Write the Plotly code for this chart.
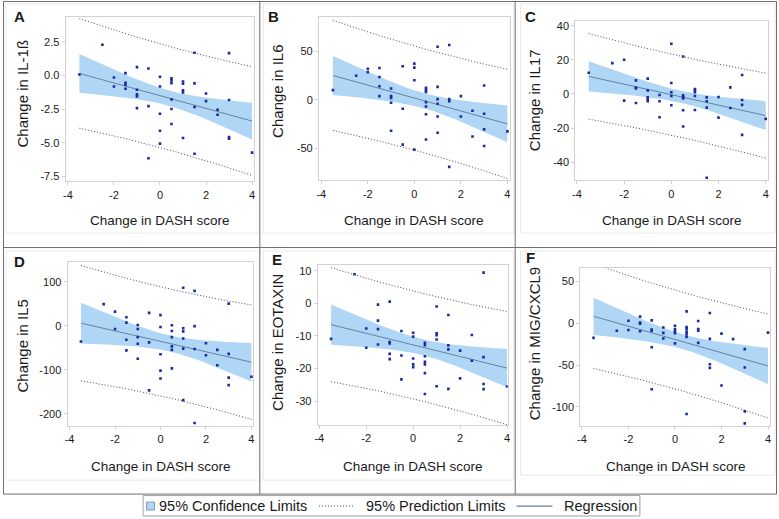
import numpy as np
import plotly.graph_objects as go

W, H = 779, 519
FONT = "Liberation Sans, Arial, sans-serif"

# ---------------- data ----------------
panel_letters = ["A", "B", "C", "D", "E", "F"]
y_titles = ["Change in IL-1ß", "Change in IL6", "Change in IL17",
            "Change in IL5", "Change in EOTAXIN", "Change in MIG/CXCL9"]
x_title = "Change in DASH score"
legend_labels = ["95% Confidence Limits", "95% Prediction Limits", "Regression"]

x_ticks = [-4, -2, 0, 2, 4]
x_ticklabels = ["-4", "-2", "0", "2", "4"]

x_A = [-3.5, -2.5, -2, -2, -1.5, -1.5, -1.5, -1.5, -1, -1, -1, -1, -1, -0.5, -0.5, -0.5,
       0, 0, 0, 0, 0, 0.5, 0.5, 0.5, 0.5, 0.5, 0.5, 1, 1, 1, 1, 1, 1.5, 1.5, 1.5, 1.5,
       2, 2, 2.5, 2.5, 3, 3, 3, 3, 4]
y_A = [0.07, 2.28, -0.15, -0.82, 0.17, -0.54, -0.69, -0.99, 0.62, -1.06, -1.41, -1.56, -2.43,
       0.52, -2.28, -6.16, -0.1, -0.82, -2.85, -4.11, -5.07, -0.22, -0.37, -0.57, -1.78, -2.5,
       -3.61, -0.45, -0.62, -1.11, -1.26, -4.65, 1.68, -0.59, -2.35, -5.82, -1.34, -1.91,
       -2.55, -2.92, 1.66, -1.83, -4.58, -4.7, -5.74]
yt_A = [2.5, 0.0, -2.5, -5.0, -7.5]
ytl_A = ["2.5", "0.0", "-2.5", "-5.0", "-7.5"]

x_B = [-3.5, -2.5, -2, -2, -1.5, -1.5, -1.5, -1.5, -1, -1, -1, -1, -1, -0.5, -0.5, -0.5,
       0, 0, 0, 0, 0.5, 0.5, 0.5, 0.5, 0.5, 0.5, 0.5, 1, 1, 1, 1, 1, 1,
       1.5, 1.5, 1.5, 1.5, 2, 2, 2.5, 2.5, 3, 3, 3, 3, 4]
y_B = [10, 25, 32, 28.5, 33, 23.7, 14, 3.8, 11.7, 3.8, 2, -3, -32, 34.7, -9.3, -46.4,
       37.5, 33.3, 20.3, -51.5, 12.4, 10.3, 8.2, -2.4, -6.9, -15, -41, 55, 13.4, 0.7, -4.1,
       -17.2, -34, 56.7, 0.7, -1.4, -69.4, 3.8, -17.2, -11.3, -38, 14.8, -14.4, -30.6, -47.8,
       -32.6]
yt_B = [50, 0, -50]
ytl_B = ["50", "0", "-50"]

x_C = [-3.5, -2.5, -2, -2, -1.5, -1.5, -1.5, -1.5, -1, -1, -1, -1, -1, -0.5, -0.5, -0.5,
       0, 0, 0, 0, 0, 0.5, 0.5, 0.5, 0.5, 0.5, 0.5, 1, 1, 1, 1, 1, 1.5, 1.5, 1.5, 1.5,
       2, 2, 2.5, 2.5, 3, 3, 3, 3, 4]
y_C = [12.5, 18.1, 20.1, -3.9, 8, 3.7, 3.3, -5.3, 9, 2.1, -2, -3.1, -4.3, -0.6, -4.3, -13.7,
       29.5, 6.4, 1, -1.2, -6.6, 22, -0.8, -2, -2.7, -9.6, -19.1, 2.9, 2, 1, -1.2, -9.4,
       -2, -4.3, -8, -49.2, -1.8, -13.9, 3.9, -8.2, 11.1, -3.5, -6.4, -24, -14.6]
yt_C = [40, 20, 0, -20, -40]
ytl_C = ["40", "20", "0", "-20", "-40"]

x_D = [-3.5, -2.5, -2, -2, -1.5, -1.5, -1.5, -1.5, -1, -1, -1, -1, -1, -0.5, -0.5, -0.5,
       0, 0, 0, 0, 0, 0.5, 0.5, 0.5, 0.5, 0.5, 0.5, 1, 1, 1, 1, 1, 1,
       1.5, 1.5, 1.5, 1.5, 2, 2, 2.5, 2.5, 3, 3, 3, 3, 4]
y_D = [-36, 49, 32, -7.5, 19, 7, -32, -56, 1.5, -7.5, -26, -41, -75, 29, -38, -147,
       24, -3, -65, -102, -120, 1, -12, -26, -47, -55, -97, 86, -6, -13, -29, -52, -169,
       79, -1, -53, -221, -40, -67, -55, -90, 50, -64, -118, -135, -116]
yt_D = [100, 0, -100, -200]
ytl_D = ["100", "0", "-100", "-200"]

x_E = [-3.5, -2.5, -2, -2, -1.5, -1.5, -1.5, -1.5, -1, -1, -1, -1, -1, -0.5, -0.5, -0.5,
       0, 0, 0, 0, 0, 0.5, 0.5, 0.5, 0.5, 0.5, 0.5, 0.5, 1, 1, 1, 1, 1,
       1.5, 1.5, 1.5, 1.5, 2, 2, 2.5, 2.5, 3, 3, 3, 3, 4]
y_E = [-10.9, 8.9, -7.7, -13.6, -0.4, -5.3, -7.9, -12.6, 0.5, -11.9, -12.3, -15.5, -17.1,
       -8.5, -16, -23.3, -9, -10.2, -16.9, -18.7, -19.6, -12.1, -12.8, -16.2, -17.9, -18.7,
       -21.4, -27.8, -1, -9.2, -9.8, -11.1, -25.4, -3.6, -12.9, -14.1, -26.2, -14.5, -23,
       -9.7, -17.6, 9.4, -16.5, -24.7, -26.3, -25.5]
yt_E = [10, 0, -10, -20, -30]
ytl_E = ["10", "0", "-10", "-20", "-30"]

x_F = [-3.5, -2.5, -2, -2, -1.5, -1.5, -1.5, -1.5, -1, -1, -1, -1, -1, -0.5, -0.5, -0.5,
       0, 0, 0, 0, 0, 0.5, 0.5, 0.5, 0.5, 0.5, 0.5, 0.5, 1, 1, 1, 1,
       1.5, 1.5, 1.5, 1.5, 2, 2, 2.5, 3, 3, 3, 3, 4]
y_F = [-17.5, -9, 3, -8, 8, 1, -0.5, -9.5, 3.5, -7.5, -9, -28.7, -79, -5, -11.5, -18.3,
       -3, -7, -9.5, -12, -24, 14.3, -4.4, -6.4, -10, -13, -16.3, -108.8, 2.8, -7, -9, -23.5,
       12.4, -18.7, -49, -53.4, -12.4, -74.5, -19, -31, -53, -105.6, -120, -11.2]
yt_F = [50, 0, -50, -100]
ytl_F = ["50", "0", "-50", "-100"]

T_CRIT = 2.016  # two-sided 95% t quantile, ~43 df

# ---------------- layout geometry (pixels) ----------------
boxes = [(63, 253, 16.5, 181), (318, 510, 16, 180), (576, 770, 20, 180),
         (65, 252, 262.3, 426.7), (316.7, 508, 265, 425.7), (581, 772.3, 268.3, 426.7)]
xranges = [[-4.1, 4.1], [-4.1, 4.1], [-4.07, 4.1], [-4.087, 4.087], [-4.07, 4.03], [-4.07, 4.1]]
yranges = [[-7.87, 4.31], [-83.3, 85.8], [-50.7, 42.9], [-228, 144], [-37.3, 11.74], [-123.2, 66]]
letter_pos = [(17, 16), (272, 16), (531, 16), (17, 262), (276, 260), (531, 257)]
ytitle_pos = [(20, 93), (276, 91), (535, 100), (20, 346), (276, 343), (535, 344)]
xtitle_pos = [(158, 220), (414, 220), (673, 220), (159, 467), (413, 467), (677, 467)]

xs = [x_A, x_B, x_C, x_D, x_E, x_F]
ys = [y_A, y_B, y_C, y_D, y_E, y_F]
yts = [yt_A, yt_B, yt_C, yt_D, yt_E, yt_F]
ytls = [ytl_A, ytl_B, ytl_C, ytl_D, ytl_E, ytl_F]

BAND = "#b0d6f6"
REG = "#6482a6"
PRED = "#4a4a4a"
DOT = "#1c2aa0"
AXC = "#d2d2d2"
TXT = "#1a1a1a"
DOTDASH = "1px,2px"


def px(xp):
    return xp / W


def py(yp):
    return 1 - yp / H


def fit(x, y):
    x = np.asarray(x, float)
    y = np.asarray(y, float)
    n = len(x)
    b1, b0 = np.polyfit(x, y, 1)
    resid = y - (b0 + b1 * x)
    s2 = np.sum(resid ** 2) / (n - 2)
    xm = x.mean()
    sxx = np.sum((x - xm) ** 2)
    g = np.linspace(x.min(), x.max(), 80)
    yh = b0 + b1 * g
    sem = np.sqrt(s2 * (1 / n + (g - xm) ** 2 / sxx))
    sep = np.sqrt(s2 * (1 + 1 / n + (g - xm) ** 2 / sxx))
    return g, yh, yh - T_CRIT * sem, yh + T_CRIT * sem, yh - T_CRIT * sep, yh + T_CRIT * sep


fig = go.Figure()
annotations = []
shapes = []

for i in range(6):
    n = "" if i == 0 else str(i + 1)
    xa, ya = "x" + n, "y" + n
    g, yh, lo, hi, plo, phi = fit(xs[i], ys[i])
    fig.add_trace(go.Scatter(
        x=np.concatenate([g, g[::-1]]), y=np.concatenate([hi, lo[::-1]]),
        fill="toself", fillcolor=BAND, line=dict(width=0, color=BAND),
        mode="lines", name=legend_labels[0], xaxis=xa, yaxis=ya, hoverinfo="skip"))
    fig.add_trace(go.Scatter(
        x=g, y=phi, mode="lines", line=dict(color=PRED, width=1, dash=DOTDASH),
        name=legend_labels[1], xaxis=xa, yaxis=ya))
    fig.add_trace(go.Scatter(
        x=g, y=plo, mode="lines", line=dict(color=PRED, width=1, dash=DOTDASH),
        name=legend_labels[1], xaxis=xa, yaxis=ya))
    fig.add_trace(go.Scatter(
        x=g, y=yh, mode="lines", line=dict(color=REG, width=1),
        name=legend_labels[2], xaxis=xa, yaxis=ya))
    fig.add_trace(go.Scatter(
        x=xs[i], y=ys[i], mode="markers", name=y_titles[i],
        marker=dict(size=2.6, color=DOT, symbol="square"),
        xaxis=xa, yaxis=ya))

    l, r, t, b = boxes[i]
    axis_common = dict(showline=True, linecolor=AXC, linewidth=1, mirror=True,
                       ticks="outside", ticklen=3, tickcolor=AXC, showgrid=False,
                       zeroline=False, tickfont=dict(family=FONT, size=11, color=TXT))
    fig.update_layout(**{
        "xaxis" + n: dict(domain=[px(l), px(r)], range=xranges[i], anchor=ya,
                          tickvals=x_ticks, ticktext=x_ticklabels, **axis_common),
        "yaxis" + n: dict(domain=[py(b), py(t)], range=yranges[i], anchor=xa,
                          tickvals=yts[i], ticktext=ytls[i], **axis_common),
    })

    lx, ly = letter_pos[i]
    annotations.append(dict(x=px(lx), y=py(ly), xref="paper", yref="paper",
                            text="<b>%s</b>" % panel_letters[i], showarrow=False,
                            xanchor="center", yanchor="middle",
                            font=dict(family=FONT, size=15, color=TXT)))
    tx, ty = ytitle_pos[i]
    annotations.append(dict(x=px(tx), y=py(ty), xref="paper", yref="paper",
                            text=y_titles[i], textangle=-90, showarrow=False,
                            xanchor="center", yanchor="middle",
                            font=dict(family=FONT, size=15, color=TXT)))
    tx, ty = xtitle_pos[i]
    annotations.append(dict(x=px(tx), y=py(ty), xref="paper", yref="paper",
                            text=x_title, showarrow=False,
                            xanchor="center", yanchor="middle",
                            font=dict(family=FONT, size=13.5, color=TXT)))

# light inner frames of each graph
cells = [(3, 258, 3, 233), (262, 514, 3, 233), (521, 777, 3, 233),
         (3, 258, 251, 481), (262, 514, 251, 481), (521, 777, 251, 476)]
for (a, c, d, e) in cells:
    shapes.append(dict(type="rect", xref="paper", yref="paper",
                       x0=px(a), x1=px(c), y0=py(e), y1=py(d),
                       line=dict(color="#e8e8e8", width=1)))

# dark panel grid
GRID = "#6e6e6e"
for (a, c, d, e) in [(0.5, 778.5, 0.5, 0.5), (0.5, 778.5, 247.5, 247.5), (0.5, 778.5, 495, 495),
                     (0.5, 0.5, 0.5, 495), (258.5, 258.5, 0.5, 495), (515.5, 515.5, 0.5, 495),
                     (778.5, 778.5, 0.5, 495)]:
    shapes.append(dict(type="line", xref="paper", yref="paper",
                       x0=px(a), x1=px(c), y0=py(d), y1=py(e),
                       line=dict(color=GRID, width=1)))

# legend (drawn as a keyed box below the panels)
LY = 507
shapes.append(dict(type="rect", xref="paper", yref="paper", x0=px(141), x1=px(641),
                   y0=py(517), y1=py(496.5), line=dict(color="#a0a0a0", width=1),
                   fillcolor="white"))
shapes.append(dict(type="rect", xref="paper", yref="paper", x0=px(144.5), x1=px(152.5),
                   y0=py(511), y1=py(503), line=dict(color="#7d9dbd", width=1),
                   fillcolor=BAND))
shapes.append(dict(type="line", xref="paper", yref="paper", x0=px(318), x1=px(353),
                   y0=py(LY), y1=py(LY), line=dict(color=PRED, width=1, dash=DOTDASH)))
shapes.append(dict(type="line", xref="paper", yref="paper", x0=px(517), x1=px(553),
                   y0=py(LY), y1=py(LY), line=dict(color=REG, width=1.2)))
for lab, lx in zip(legend_labels, [155, 363, 563]):
    annotations.append(dict(x=px(lx), y=py(LY), xref="paper", yref="paper", text=lab,
                            showarrow=False, xanchor="left", yanchor="middle",
                            font=dict(family=FONT, size=14.5, color=TXT)))

fig.update_layout(
    width=W, height=H, margin=dict(l=0, r=0, t=0, b=0),
    paper_bgcolor="white", plot_bgcolor="white",
    showlegend=False,
    annotations=annotations, shapes=shapes,
)

fig.write_html("out.html", config={"displayModeBar": False},
               post_script="document.body.style.margin='0px';document.body.style.padding='0px';")
